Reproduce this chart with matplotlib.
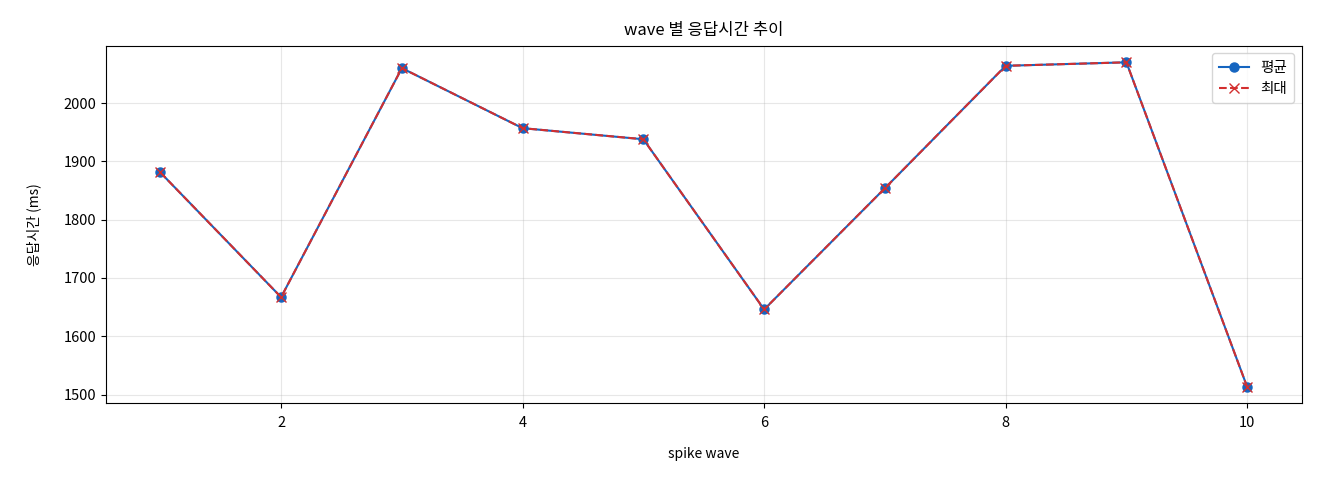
import matplotlib
matplotlib.use("Agg")
import matplotlib.pyplot as plt

plt.rcParams['font.family'] = ['Noto Sans CJK KR', 'DejaVu Sans']

waves = [1, 2, 3, 4, 5, 6, 7, 8, 9, 10]
avg_ms = [1881, 1667, 2060, 1957, 1938, 1646, 1854, 2064, 2070, 1513]
max_ms = [1881, 1667, 2060, 1957, 1938, 1646, 1854, 2064, 2070, 1513]

fig, ax = plt.subplots(figsize=(13.2, 4.8), dpi=100)
fig.subplots_adjust(left=0.0803, right=0.986, top=0.904, bottom=0.160)

ax.plot(waves, avg_ms, marker='o', color='#1565C0', linewidth=1.5, markersize=6.5, label='평균')
ax.plot(waves, max_ms, marker='x', linestyle='--', color='#D32F2F', linewidth=1.5, markersize=6.5, label='최대')

ax.set_title('wave 별 응답시간 추이', fontsize=12, pad=8)
ax.set_xlabel('spike wave', fontsize=10, labelpad=12)
ax.set_ylabel('응답시간 (ms)', fontsize=10, labelpad=16)
ax.tick_params(axis='x', pad=6, labelsize=10.5)
ax.tick_params(axis='y', labelsize=10.5)
ax.grid(True, alpha=0.3)
ax.legend(loc='upper right', fontsize=10.5, borderpad=0.5)

fig.savefig('out.png', dpi=100)
